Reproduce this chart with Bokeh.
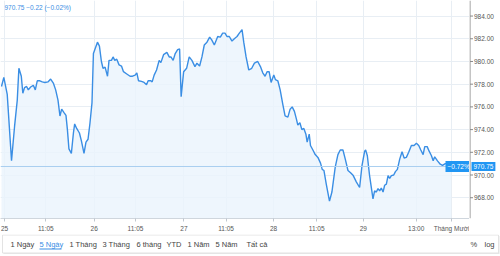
from bokeh.plotting import figure
from bokeh.models import (FixedTicker, Span, Label, Range1d)
from bokeh.layouts import column, row
from bokeh.embed import file_html
from bokeh.resources import INLINE
from bokeh.core.properties import value

# time in trading days from 25th session open, index price
t = [-0.034, -0.008, 0.030, 0.078, 0.112, 0.142, 0.160, 0.187, 0.204, 0.223,
     0.246, 0.265, 0.291, 0.321, 0.343, 0.365, 0.394, 0.421, 0.450, 0.484,
     0.514, 0.544, 0.570, 0.596, 0.618, 0.637, 0.663, 0.685, 0.701, 0.718,
     0.745, 0.768, 0.782, 0.804, 0.835, 0.857, 0.886, 0.908, 0.931, 0.953,
     0.975, 0.991, 1.000, 1.036, 1.058, 1.080, 1.098, 1.121, 1.148, 1.165,
     1.192, 1.210, 1.229, 1.251, 1.277, 1.304, 1.326, 1.363, 1.400, 1.427,
     1.456, 1.475, 1.494, 1.527, 1.556, 1.583, 1.601, 1.631, 1.646, 1.668,
     1.695, 1.724, 1.743, 1.773, 1.810, 1.836, 1.855, 1.880, 1.903, 1.930,
     1.952, 1.969, 1.997, 2.030, 2.059, 2.089, 2.123, 2.145, 2.175, 2.201,
     2.227, 2.257, 2.287, 2.310, 2.339, 2.377, 2.406, 2.432, 2.458, 2.480,
     2.506, 2.536, 2.562, 2.592, 2.618, 2.648, 2.667, 2.693, 2.723, 2.756,
     2.786, 2.823, 2.853, 2.879, 2.905, 2.927, 2.950, 2.972, 3.002, 3.020,
     3.047, 3.073, 3.103, 3.128, 3.159, 3.184, 3.207, 3.232, 3.255, 3.270,
     3.293, 3.315, 3.337, 3.360, 3.374, 3.397, 3.411, 3.438, 3.464, 3.494,
     3.523, 3.542, 3.561, 3.587, 3.623, 3.650, 3.687, 3.717, 3.743, 3.773,
     3.799, 3.829, 3.858, 3.888, 3.922, 3.959, 3.985, 4.015, 4.026, 4.045,
     4.070, 4.108, 4.126, 4.145, 4.164, 4.182, 4.201, 4.220, 4.238, 4.257,
     4.276, 4.294, 4.313, 4.339, 4.358, 4.380, 4.406, 4.432, 4.455, 4.480,
     4.506, 4.536, 4.566, 4.592, 4.618, 4.641, 4.667, 4.685, 4.712, 4.734,
     4.760, 4.779, 4.796, 4.827, 4.858, 4.883, 4.914, 4.933, 4.978]

price = [977.8, 978.6, 977.1, 971.26, 974.3, 976.6, 979.4, 978.7, 977.2, 977.7,
         977.8, 977.5, 977.75, 977.9, 977.5, 978.3, 978.3, 978.2, 978.15, 978.2,
         978.45, 978.1, 977.5, 976.6, 975.2, 975.8, 975.5, 975.25, 974.0, 972.3,
         971.9, 973.7, 974.5, 974.1, 973.7, 973.0, 971.9, 972.9, 973.15, 974.6,
         976.35, 980.7, 980.9, 981.7, 981.35, 980.0, 979.4, 979.5, 978.7, 980.1,
         980.1, 980.4, 980.1, 980.2, 979.7, 979.6, 979.1, 978.9, 978.7, 978.7,
         978.8, 979.0, 978.3, 978.25, 978.15, 977.95, 978.3, 978.3, 978.2, 978.8,
         979.25, 980.1, 979.9, 980.6, 980.8, 980.4, 980.4, 980.1, 980.7, 981.05,
         981.1, 976.9, 979.1, 979.4, 980.4, 980.1, 979.55, 979.85, 979.6, 980.4,
         981.45, 981.7, 982.15, 981.9, 981.45, 982.2, 982.15, 982.5, 982.5, 982.2,
         982.2, 981.8, 982.0, 982.2, 982.5, 982.8, 981.7, 980.4, 979.25, 979.4,
         979.85, 980.0, 979.55, 979.0, 978.7, 979.1, 979.1, 978.15, 978.8, 978.4,
         978.3, 977.5, 976.2, 975.2, 975.1, 975.8, 976.0, 975.6, 974.9, 974.4,
         974.6, 974.0, 974.1, 973.6, 972.9, 973.6, 972.6, 972.2, 971.8, 971.55,
         971.05, 970.5, 970.4, 969.2, 967.7, 968.5, 970.7, 971.8, 972.2, 972.2,
         971.4, 970.4, 970.2, 969.95, 969.4, 968.9, 970.8, 972.1, 972.2, 971.7,
         969.95, 967.9, 968.6, 968.5, 968.8, 968.6, 968.85, 968.5, 969.1, 969.2,
         969.95, 969.7, 969.95, 970.0, 970.3, 970.5, 971.4, 972.05, 971.5, 971.55,
         972.0, 972.6, 972.6, 972.8, 972.6, 972.2, 971.8, 972.5, 972.5, 972.1,
         971.7, 971.25, 971.6, 971.25, 970.95, 970.85, 971.0, 971.0, 970.75]

x_tick_pos = [0, 0.46, 1, 1.46, 2, 2.47, 3, 3.48, 4, 4.59, 4.985]
x_tick_labels = ["25", "11:05", "26", "11:05", "27", "11:05", "28", "11:05", "29", "13:00", "Tháng Mười"]
y_ticks = [968, 970, 972, 974, 976, 978, 980, 982, 984]

last_price = 970.75
change_text = "970.75  −0.22 (−0.02%)"
pct_text = "−0.72%"
range_buttons = ["1 Ngày", "5 Ngày", "1 Tháng", "3 Tháng", "6 tháng", "YTD", "1 Năm", "5 Năm", "Tất cả"]
right_buttons = ["%", "log"]

FONT = "Liberation Sans"
BLUE = "#3a8ee4"
Y0, Y1 = 966.17, 985.37
yr = Range1d(Y0, Y1)

p = figure(width=469, height=234, output_backend="svg", toolbar_location=None,
           x_range=Range1d(-0.045, 5.184), y_range=yr,
           y_axis_location=None, min_border_left=0, min_border_top=0,
           min_border_right=0, min_border_bottom=14)
p.outline_line_color = None
p.background_fill_color = "white"

p.varea(x=t, y1=Y0, y2=price, fill_color="#eaf4fc", fill_alpha=0.8)
p.line(t, price, line_color=BLUE, line_width=1.4)

p.add_layout(Span(location=last_price, dimension="width", line_color="#a9cff0", line_width=1))

xa = p.xaxis[0]
xa.ticker = FixedTicker(ticks=x_tick_pos)
xa.major_label_overrides = {pos: lab for pos, lab in zip(x_tick_pos, x_tick_labels)}
xa.major_label_text_font = FONT
xa.major_label_text_font_size = "6.5px"
xa.major_label_text_color = "#555555"
xa.major_label_standoff = 3
xa.axis_line_color = "#cfd6dd"
xa.major_tick_line_color = "#bfc7cf"
xa.major_tick_out = 3
xa.major_tick_in = 0
xa.minor_tick_line_color = None

p.xgrid.ticker = FixedTicker(ticks=x_tick_pos)
p.ygrid.ticker = FixedTicker(ticks=y_ticks)
p.grid.grid_line_color = "#e8eef4"

p.add_layout(Label(x=4, y=211, x_units="screen", y_units="screen", text=change_text,
                   text_font=FONT, text_font_size="6.5px", text_color=BLUE,
                   text_baseline="middle"))
p.add_layout(Label(x=445, y=last_price, x_units="screen", y_units="data", text=pct_text,
                   text_font=FONT, text_font_size="6.5px", text_color="white",
                   text_baseline="middle", background_fill_color="#2196f3",
                   padding=2))

# price scale on the right
ax = figure(width=31, height=234, output_backend="svg", toolbar_location=None,
            x_range=Range1d(0, 31), y_range=yr, x_axis_location=None,
            y_axis_location=None, min_border_left=0, min_border_top=0,
            min_border_right=0, min_border_bottom=14)
ax.outline_line_color = None
ax.grid.visible = False
ax.segment(x0=[0.5], y0=[Y0], x1=[0.5], y1=[Y1], line_color="#8a8a8a", line_width=1)
ax.segment(x0=[0.5] * len(y_ticks), y0=y_ticks, x1=[3.5] * len(y_ticks), y1=y_ticks,
           line_color="#8a8a8a", line_width=1)
ax.text(x=[4.5] * len(y_ticks), y=y_ticks, text=[f"{v:.2f}" for v in y_ticks],
        text_font=value(FONT), text_font_size="6.5px", text_color="#555555",
        text_baseline="middle")
ax.add_layout(Label(x=2, y=last_price, x_units="screen", y_units="data", text=f"{last_price:.2f}",
                    text_font=FONT, text_font_size="6.5px", text_color="white",
                    text_baseline="middle", background_fill_color="#2196f3",
                    padding=2))

# range selector bar
b = figure(width=500, height=22, output_backend="svg", toolbar_location=None,
           x_range=Range1d(0, 500), y_range=Range1d(0, 22),
           x_axis_location=None, y_axis_location=None, min_border=0)
b.grid.visible = False
b.outline_line_color = None
b.quad(left=[3], right=[499], bottom=[2.5], top=[20.5], fill_color="#e6e6e6", line_color=None)
b.quad(left=[2], right=[498], bottom=[3.5], top=[21.5], fill_color="white", line_color="#e3e3e3")
bx = [10, 39, 69, 102, 136, 166, 187, 215, 246]
colors = ["#444444"] * len(range_buttons)
colors[1] = BLUE
b.text(x=bx, y=[12] * len(bx), text=range_buttons, text_font=value(FONT),
       text_font_size="7.5px", text_color=colors, text_baseline="middle")
b.segment(x0=[39], y0=[7.5], x1=[61], y1=[7.5], line_color=BLUE, line_width=1.2)
b.text(x=[470, 484], y=[12, 12], text=right_buttons, text_font=value(FONT),
       text_font_size="7.5px", text_color="#444444", text_baseline="middle")

layout = column(row(p, ax, spacing=0), b, spacing=0)
open("out.html", "w").write(file_html(layout, INLINE))
